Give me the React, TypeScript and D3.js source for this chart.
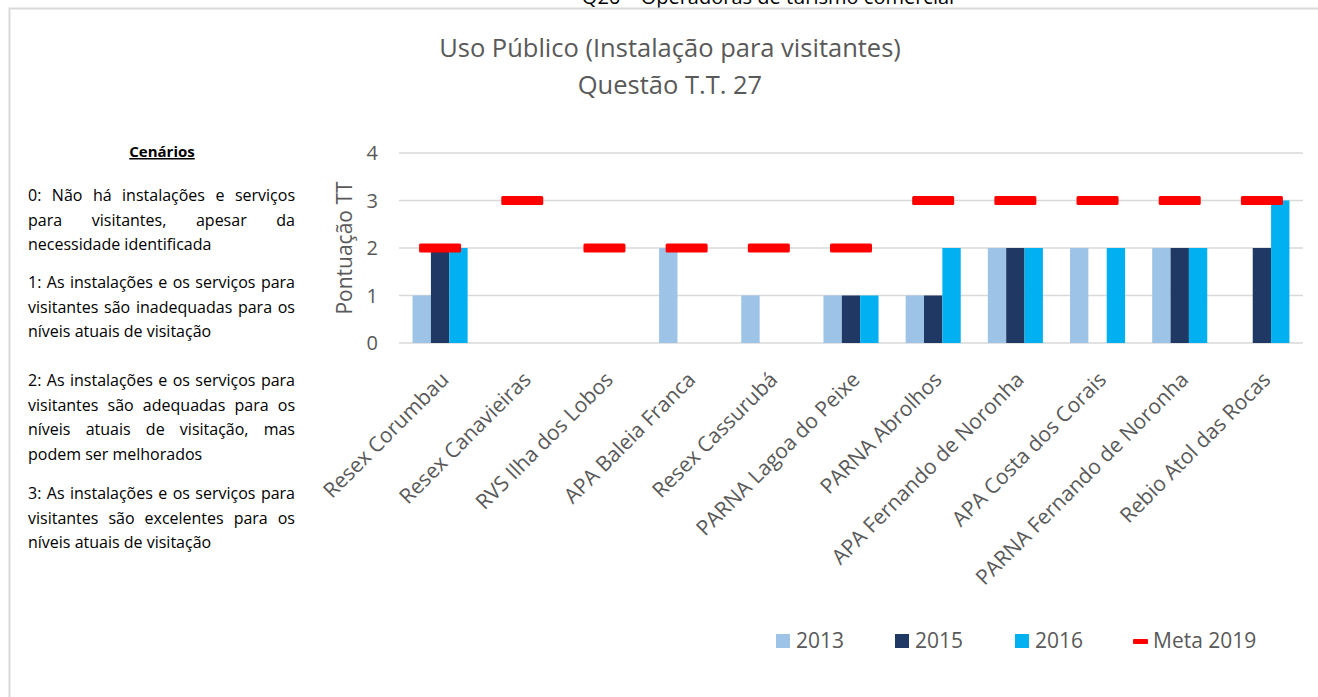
import React, { useEffect, useRef } from "react";
import * as d3 from "d3";

const categories = [
  "Resex Corumbau",
  "Resex Canavieiras",
  "RVS Ilha dos Lobos",
  "APA Baleia Franca",
  "Resex Cassurubá",
  "PARNA Lagoa do Peixe",
  "PARNA Abrolhos",
  "APA Fernando de Noronha",
  "APA Costa dos Corais",
  "PARNA Fernando de Noronha",
  "Rebio Atol das Rocas",
];
const v2013 = [1, null, null, 2, 1, 1, 1, 2, 2, 2, null];
const v2015 = [2, null, null, null, null, 1, 1, 2, null, 2, 2];
const v2016 = [2, null, null, null, null, 1, 2, 2, 2, 2, 3];
const meta2019 = [2, 3, 2, 2, 2, 2, 3, 3, 3, 3, 3];
const yTicks = [0, 1, 2, 3, 4];

const seriesNames = ["2013", "2015", "2016"];
const seriesColors = ["#9DC3E6", "#203864", "#00B0F0"];
const metaColor = "#FF0000";

// left-hand notes: [text, justified]
const notes: [string, boolean][][] = [
  [
    ["0: Não há instalações e serviços", true],
    ["para visitantes, apesar da", true],
    ["necessidade identificada", false],
  ],
  [
    ["1: As instalações e os serviços para", true],
    ["visitantes são inadequadas para os", true],
    ["níveis atuais de visitação", false],
  ],
  [
    ["2: As instalações e os serviços para", true],
    ["visitantes são adequadas para os", true],
    ["níveis atuais de visitação, mas", true],
    ["podem ser melhorados", false],
  ],
  [
    ["3: As instalações e os serviços para", true],
    ["visitantes são excelentes para os", true],
    ["níveis atuais de visitação", false],
  ],
];
const noteTops = [195, 282, 380, 493];
const noteLeft = 28;
const noteRight = 295;

const W = 1318;
const H = 697;
const font = "'Open Sans', sans-serif";
const grey = "#595959";

export default function App() {
  const svgRef = useRef<SVGSVGElement>(null);

  const x = d3
    .scaleBand()
    .domain(categories)
    .range([399, 1303])
    .paddingInner(0.33)
    .paddingOuter(0.165);
  const xs = d3.scaleBand().domain(seriesNames).range([0, x.bandwidth()]);
  const y = d3.scaleLinear().domain([0, 4]).range([343, 153]);
  const series = [v2013, v2015, v2016];

  useEffect(() => {
    const justify = () => {
      d3.select(svgRef.current)
        .selectAll<SVGTextElement, unknown>("text.just")
        .each(function () {
          this.style.wordSpacing = "0px";
          const w = this.getComputedTextLength();
          const n = (this.textContent || "").split(" ").length;
          if (n > 1) this.style.wordSpacing = `${(noteRight - noteLeft - w) / (n - 1)}px`;
        });
    };
    justify();
    (document as any).fonts?.ready.then(justify);
  }, []);

  return (
    <svg
      ref={svgRef}
      width={W}
      height={H}
      style={{ position: "absolute", left: 0, top: 0, background: "#fff" }}
      fontFamily={font}
    >
      <text x={768} y={4} textAnchor="middle" fontSize={20} fill="#000">
        Q26 – Operadoras de turismo comercial
      </text>
      <rect x={9.5} y={8.5} width={W} height={H} fill="#fff" stroke="#d9d9d9" strokeWidth={2} />

      <text x={670} y={57} textAnchor="middle" fontSize={25.5} fill={grey}>
        Uso Público (Instalação para visitantes)
      </text>
      <text x={670} y={94} textAnchor="middle" fontSize={25.5} fill={grey}>
        Questão T.T. 27
      </text>

      {/* notes */}
      <text x={162} y={157} textAnchor="middle" fontSize={15} fontWeight="bold" textDecoration="underline" fill="#000">
        Cenários
      </text>
      {notes.map((para, pi) =>
        para.map(([t, j], li) => (
          <text
            key={`${pi}-${li}`}
            className={j ? "just" : undefined}
            x={noteLeft}
            y={noteTops[pi] + li * 24.5 + 6}
            fontSize={16}
            fill="#000"
          >
            {t}
          </text>
        ))
      )}

      {/* grid */}
      {yTicks.map((t) => (
        <g key={t}>
          <line x1={399} x2={1303} y1={y(t)} y2={y(t)} stroke="#d9d9d9" strokeWidth={1.5} />
          <text x={378} y={y(t)} dy="0.35em" textAnchor="end" fontSize={20} fill={grey}>
            {t}
          </text>
        </g>
      ))}

      <text
        transform={`translate(352,248) rotate(-90)`}
        textAnchor="middle"
        fontSize={21}
        fill={grey}
      >
        Pontuação TT
      </text>

      {/* bars */}
      {series.map((vals, si) =>
        vals.map((v, i) =>
          v == null ? null : (
            <rect
              key={`${si}-${i}`}
              x={(x(categories[i]) || 0) + (xs(seriesNames[si]) || 0)}
              y={y(v)}
              width={xs.bandwidth()}
              height={y(0) - y(v)}
              fill={seriesColors[si]}
            />
          )
        )
      )}

      {/* meta markers */}
      {meta2019.map((v, i) => {
        const cx = (x(categories[i]) || 0) + x.bandwidth() / 2;
        return (
          <rect key={i} x={cx - 21} y={y(v) - 4.5} width={42} height={9} rx={1.5} fill={metaColor} />
        );
      })}

      {/* category labels */}
      {categories.map((c) => {
        const cx = (x(c) || 0) + x.bandwidth() / 2;
        return (
          <text
            key={c}
            transform={`translate(${cx + 10},381) rotate(-45)`}
            textAnchor="end"
            fontSize={21}
            fill={grey}
          >
            {c}
          </text>
        );
      })}

      {/* legend */}
      {seriesNames.map((s, i) => {
        const lx = [776, 895, 1015][i];
        return (
          <g key={s}>
            <rect x={lx} y={634} width={14} height={14} fill={seriesColors[i]} />
            <text x={lx + 20} y={641} dy="0.35em" fontSize={21} fill={grey}>
              {s}
            </text>
          </g>
        );
      })}
      <rect x={1133} y={639} width={15} height={5} rx={1} fill={metaColor} />
      <text x={1153} y={641} dy="0.35em" fontSize={21} fill={grey}>
        Meta 2019
      </text>
    </svg>
  );
}
